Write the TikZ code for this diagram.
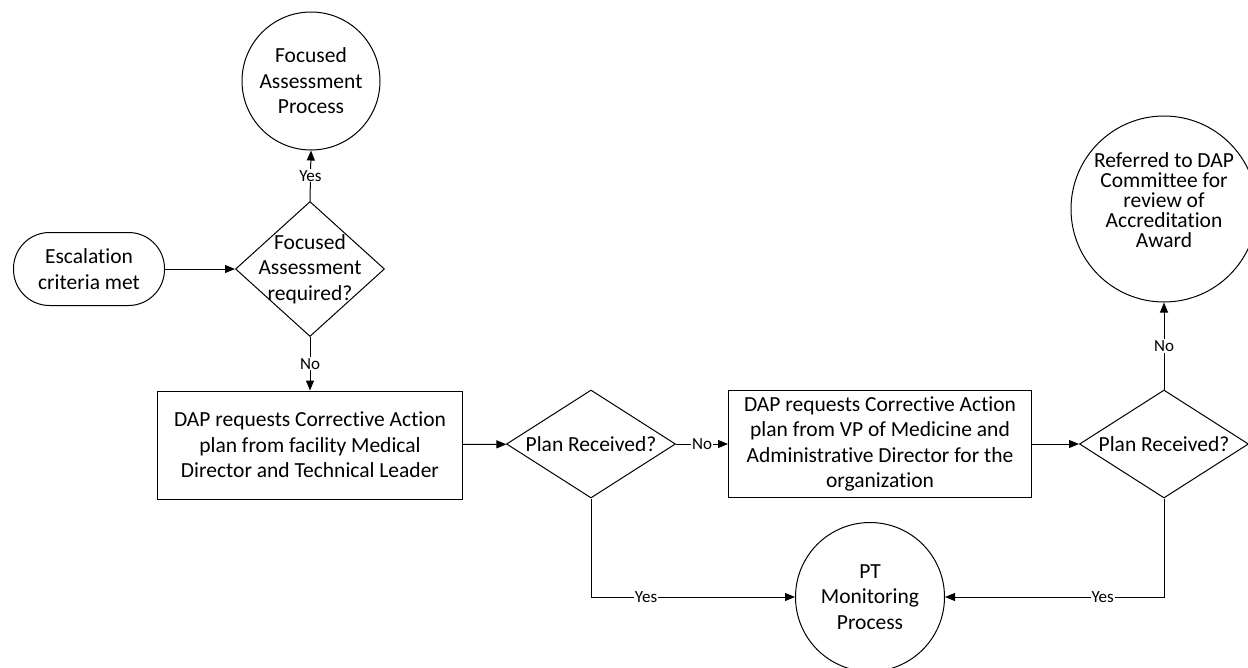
\documentclass[tikz,border=0pt]{standalone}
\usepackage{fontspec}
\setmainfont{Carlito}[Ligatures=NoCommon]
\usetikzlibrary{shapes.geometric,arrows.meta}
\tikzset{
  txt/.style={align=center,inner sep=0pt,font=\fontsize{21.5}{25.5}\selectfont},
  flow/.style={txt,draw,line width=1pt},
  term/.style={flow,rectangle,rounded corners=36pt,minimum width=151pt,minimum height=73pt},
  proc/.style={flow,rectangle,minimum width=305pt,minimum height=108pt},
  decide/.style={flow,diamond,minimum width=169pt,minimum height=108pt},
  conn/.style={flow,circle},
  arr/.style={line width=1pt,-{Triangle[length=10pt,width=8pt]}},
  lbl/.style={fill=white,inner sep=1pt,font=\fontsize{17}{20}\selectfont}
}
\begin{document}
\begin{tikzpicture}[x=1pt,y=-1pt]
    \useasboundingbox (0,0) rectangle (1248,667);
    \node[term] (esc) at (89,269) {Escalation\\criteria met};
    \node[decide,minimum width=149pt,minimum height=135pt,
      label={[txt,name=d1txt]center:Focused\\Assessment\\required?}] (d1) at (310,269) {};
    \node[conn,minimum size=138pt] (fap) at (311,81) {Focused\\Assessment\\Process};
    \node[proc] (req1) at (310,445) {DAP requests Corrective Action\\plan from facility Medical\\Director and Technical Leader};
    \node[decide,label={[txt,name=d2txt]center:Plan Received?}] (d2) at (591,444) {};
    \node[proc,minimum width=303pt,minimum height=107pt] (req2) at (880,444) {DAP requests Corrective Action\\plan from VP of Medicine and\\Administrative Director for the\\organization};
    \node[decide,label={[txt,name=d3txt]center:Plan Received?}] (d3) at (1164,444) {};
    \node[conn,minimum size=186pt,
      label={[txt,font=\fontsize{21.5}{20}\selectfont,yshift=9pt,name=dapctxt]center:Referred to DAP\\Committee for\\review of\\Accreditation\\Award}] (dapc) at (1164,209) {};
    \node[conn,minimum size=149pt] (ptm) at (870,597) {PT\\Monitoring\\Process};

    \draw[arr] (esc) -- (d1);
    \draw[arr] (d1.north) -- node[lbl] {Yes} (fap.south);
    \draw[arr] (d1.south) -- node[lbl] {No} (req1.north);
    \draw[arr] (req1) -- (d2);
    \draw[arr] (d2.east) -- node[lbl] {No} (req2.west);
    \draw[arr] (req2) -- (d3);
    \draw[arr] (d3.north) -- node[lbl] {No} (dapc.south);
    \draw[arr] (d2.south) |- node[lbl,pos=0.635] {Yes} (ptm.west);
    \draw[arr] (d3.south) |- node[lbl,pos=0.64] {Yes} (ptm.east);
\end{tikzpicture}
\end{document}
